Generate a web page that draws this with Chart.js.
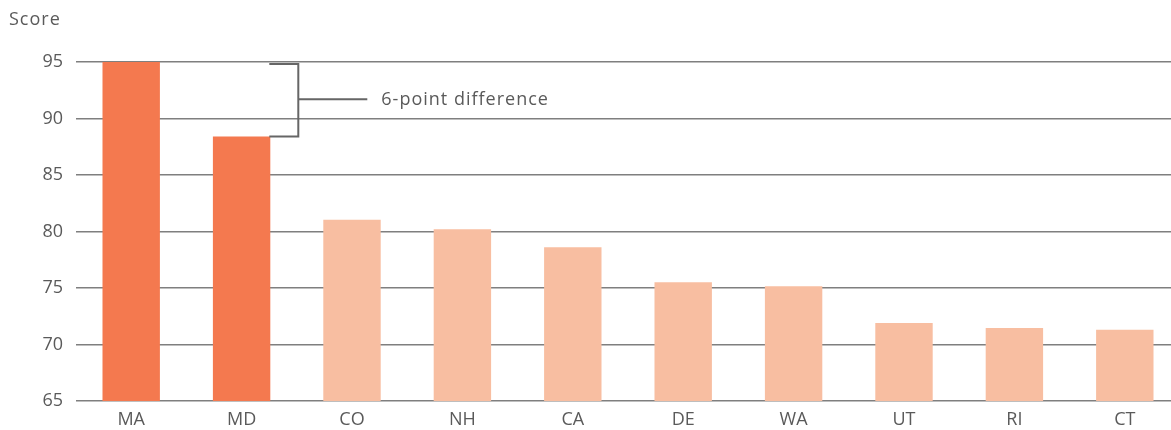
<!DOCTYPE html>
<html>
<head>
<meta charset="utf-8">
<script src="https://cdn.jsdelivr.net/npm/chart.js@4.4.0/dist/chart.umd.min.js"></script>
<style>
  html, body { margin: 0; padding: 0; background: #fff; overflow: hidden; }
  #wrap { width: 1180px; height: 430px; }
</style>
</head>
<body>
<div id="wrap"><canvas id="barChart"></canvas></div>
<script>
// data
const states = ['MA', 'MD', 'CO', 'NH', 'CA', 'DE', 'WA', 'UT', 'RI', 'CT'];
const scores = [95.0, 88.4, 81.05, 80.2, 78.6, 75.5, 75.15, 71.9, 71.45, 71.3];
const yTicks = [65, 70, 75, 80, 85, 90, 95];
const axisTitle = 'Score';
const noteText = '6-point difference';

const darkOrange = '#f4794f';
const lightOrange = '#f8bea1';
const textColor = '#5a5a5a';
const fontFamily = '"Open Sans", "DejaVu Sans", sans-serif';

// "Score" label and the bracket between MA and MD
const annotate = {
    id: 'annotate',
    afterDraw(chart) {
        const ctx = chart.ctx;
        const y = chart.scales.y;
        ctx.save();
        ctx.fillStyle = textColor;
        ctx.font = '18px ' + fontFamily;
        ctx.letterSpacing = '1px';
        ctx.textBaseline = 'middle';
        ctx.textAlign = 'left';
        ctx.fillText(axisTitle, 9, 20);

        const md = chart.getDatasetMeta(0).data[1];
        const yTop = y.getPixelForValue(scores[0]);
        const yBot = y.getPixelForValue(scores[1]);
        const xStart = md.x + md.width / 2 - 1;
        const xBr = md.x + md.width / 2 + 28;
        const yMid = (yTop + yBot) / 2;
        ctx.strokeStyle = '#666';
        ctx.lineWidth = 2;
        ctx.beginPath();
        ctx.moveTo(xStart, yTop + 2);
        ctx.lineTo(xBr, yTop + 2);
        ctx.lineTo(xBr, yBot);
        ctx.lineTo(xStart, yBot);
        ctx.moveTo(xBr, yMid);
        ctx.lineTo(xBr + 69, yMid);
        ctx.stroke();
        ctx.fillText(noteText, xBr + 83, yMid + 1);
        ctx.restore();
    }
};

const canvas = document.getElementById('barChart');
new Chart(canvas.getContext('2d'), {
    type: 'bar',
    data: {
        labels: states,
        datasets: [{
            data: scores,
            backgroundColor: scores.map((v, i) => i < 2 ? darkOrange : lightOrange),
            borderWidth: 0,
            barPercentage: 0.52,
            categoryPercentage: 1.0
        }]
    },
    options: {
        responsive: true,
        maintainAspectRatio: false,
        animation: false,
        layout: { padding: { top: 62, right: 0, left: 0, bottom: 0 } },
        plugins: {
            legend: { display: false },
            tooltip: { enabled: false }
        },
        scales: {
            x: {
                grid: { display: false },
                border: { display: false },
                ticks: {
                    color: textColor,
                    padding: 0,
                    font: { family: fontFamily, size: 18 }
                },
                afterFit: s => { s.height = 29; }
            },
            y: {
                min: 65,
                max: 95,
                afterBuildTicks: s => { s.ticks = yTicks.map(v => ({ value: v })); },
                grid: { color: '#7f7f7f', lineWidth: 1.5, drawTicks: false },
                border: { display: false },
                ticks: {
                    color: textColor,
                    padding: 13,
                    font: { family: fontFamily, size: 18 }
                },
                afterFit: s => { s.width = 76; }
            }
        }
    },
    plugins: [annotate]
});
</script>
</body>
</html>
